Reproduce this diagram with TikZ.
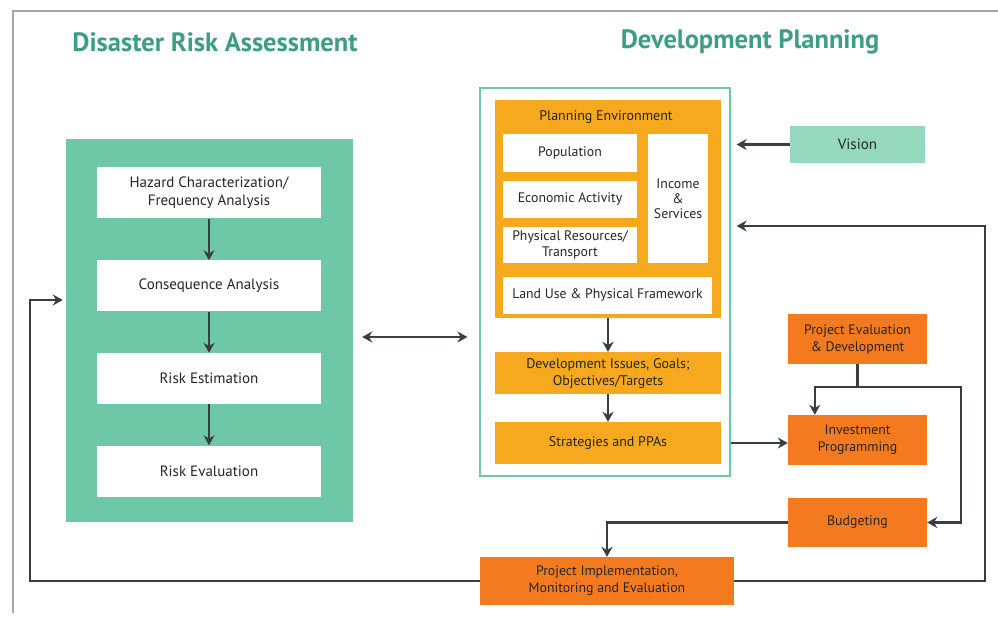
\documentclass[tikz,border=0pt]{standalone}
\usepackage{fontspec}
\setmainfont{PT Sans}
\usetikzlibrary{arrows.meta,calc}

\definecolor{mint}{RGB}{110,200,168}
\definecolor{lightmint}{RGB}{150,216,190}
\definecolor{titlegreen}{RGB}{62,158,132}
\definecolor{ambre}{RGB}{246,168,31}
\definecolor{burnt}{RGB}{244,122,32}
\definecolor{arrowgray}{RGB}{58,62,66}

\begin{document}
\begin{tikzpicture}[x=1pt,y=-1pt,
    every node/.style={align=center,inner sep=0pt,text=black!85},
    drastep/.style={fill=white,minimum width=224,minimum height=51,font=\fontsize{15}{18}\selectfont},
    envbox/.style={fill=white,font=\fontsize{13.8}{16}\selectfont},
    ambrebox/.style={fill=ambre,minimum width=226,minimum height=42,font=\fontsize{14}{17}\selectfont},
    burntbox/.style={fill=burnt,minimum width=139,minimum height=49,font=\fontsize{13.8}{17}\selectfont},
    title/.style={text=titlegreen,font=\fontsize{26.5}{30}\selectfont\bfseries},
    arr/.style={draw=arrowgray,line width=2.2pt,-{Stealth[length=10pt,width=11pt]}},
    line/.style={draw=arrowgray,line width=2.2pt}]
  \useasboundingbox (0,0) rectangle (998,617);
  \draw[gray!70,line width=1.5pt] (13,613) -- (13,11) -- (998,11);

  % headings
  \node[title] (drahead) at (215,42) {Disaster Risk Assessment};
  \node[title] (devhead) at (750,42) {Development Planning};

  % risk assessment column
  \node[fill=mint,minimum width=287,minimum height=383] (drabox) at (209.5,330.5) {};
  \node[drastep] (hazard) at (209,193) {Hazard Characterization/\\Frequency Analysis};
  \node[drastep] (conseq) at (209,286) {Consequence Analysis};
  \node[drastep] (estim) at (209,378.5) {Risk Estimation};
  \node[drastep] (evalu) at (209,471) {Risk Evaluation};
  \draw[arr] (hazard) -- (conseq);
  \draw[arr] (conseq) -- (estim);
  \draw[arr] (estim) -- (evalu);

  % development planning column
  \node[draw=mint,line width=1.2pt,fill=white,minimum width=250,minimum height=388] (devbox) at (605,282) {};
  \node[fill=ambre,minimum width=226,minimum height=218] (penv) at (608,209) {};
  \node[font=\fontsize{14}{16}\selectfont] (penvlabel) at (606,117) {Planning Environment};
  \node[envbox,minimum width=134,minimum height=38] (pop) at (570,153) {Population};
  \node[envbox,minimum width=134,minimum height=37] (econ) at (570,199.5) {Economic Activity};
  \node[envbox,minimum width=134,minimum height=36] (phys) at (570,245) {Physical Resources/\\Transport};
  \node[envbox,minimum width=60,minimum height=129,font=\fontsize{13.8}{15}\selectfont] (income) at (678,198.5) {Income\\\&\\Services};
  \node[envbox,minimum width=209,minimum height=37] (land) at (607.5,295.5) {Land Use \& Physical Framework};
  \node[ambrebox] (issues) at (608,373) {Development Issues, Goals;\\Objectives/Targets};
  \node[ambrebox] (strat) at (608,443) {Strategies and PPAs};
  \draw[arr] (penv) -- (issues);
  \draw[arr] (issues) -- (strat);

  \draw[arr,{Stealth[length=10pt,width=11pt]}-{Stealth[length=10pt,width=11pt]}]
    ($(drabox.east)+(9,6.5)$) -- ($(devbox.west |- drabox.east)+(-12,6.5)$);

  % programming and budgeting
  \node[fill=lightmint,minimum width=135,minimum height=37,font=\fontsize{15}{17}\selectfont] (vision) at (857.5,144.5) {Vision};
  \node[burntbox] (projev) at (857.5,339) {Project Evaluation\\\& Development};
  \node[burntbox,minimum height=50] (invest) at (857.5,440) {Investment\\Programming};
  \node[burntbox] (budget) at (857.5,522.5) {Budgeting};
  \node[burntbox,minimum width=254,minimum height=48] (projimpl) at (607,581) {Project Implementation,\\Monitoring and Evaluation};

  \coordinate (split) at (857.5,387);
  \coordinate (bend) at (961,387);
  \coordinate (rt) at (985,226);
  \coordinate (lt) at (30,300);

  \draw[arr] (vision.west) -- ($(vision.west -| devbox.east)+(6,0)$);
  \draw[arr] (strat.east -| devbox.east) -- (invest.west |- strat.east);
  \draw[line] (projev.south) -- (split);
  \draw[arr] (split) -| ($(invest.north west)+(27,0)$);
  \draw[arr] (split) -- (bend) |- (budget.east);
  \draw[arr] (budget.west) -| (projimpl.north);
  \draw[arr] (projimpl.east) -| (rt) -- ($(rt -| devbox.east)+(6,0)$);
  \draw[arr] (projimpl.west) -| (lt) -- ($(lt -| drabox.west)+(-3,0)$);
\end{tikzpicture}
\end{document}
